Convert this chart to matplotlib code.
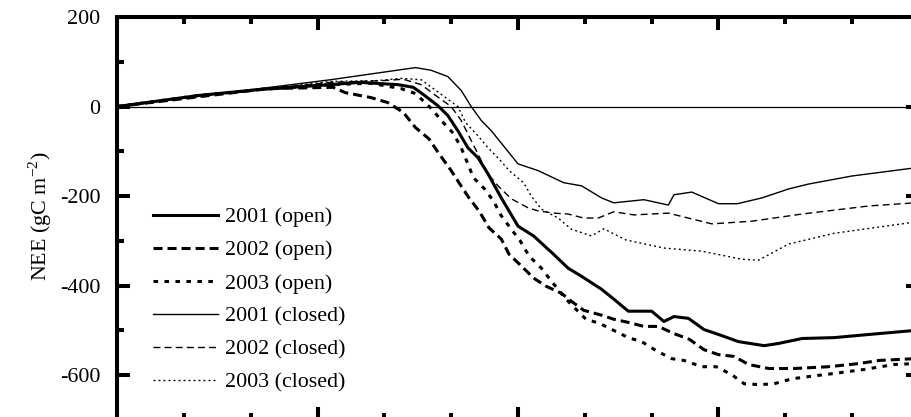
import matplotlib
matplotlib.use("Agg")
import matplotlib.pyplot as plt
from matplotlib.ticker import MultipleLocator

plt.rcParams['font.family'] = ['Liberation Serif', 'DejaVu Serif']
plt.rcParams['mathtext.fontset'] = 'custom'
plt.rcParams['mathtext.rm'] = 'Liberation Serif'
plt.rcParams['axes.unicode_minus'] = False
plt.rcParams['lines.scale_dashes'] = False

# Cumulative NEE (gC m-2) against day of year
day_2001_open = [0, 37, 64, 96, 109, 126, 133, 138, 144, 148.5, 153, 157.5, 162, 166.5, 172.5, 180, 187, 196,
                 202.5, 208.5, 217.5, 223, 229.5, 240, 245.5, 250, 256.5, 263.5, 270, 279, 290.5, 297, 307.5,
                 322, 337.5, 358, 362]
nee_2001_open = [0, 25, 38, 49, 54, 49, 43, 25, 2, -20, -54, -92, -114, -150, -204, -267, -289, -330,
                 -361, -379, -408, -430, -457, -457, -480, -469, -473, -498, -509, -525, -534, -529, -518,
                 -516, -509, -500, -499]

day_2002_open = [0, 37, 67.5, 97, 102.5, 114, 121.5, 128.5, 134, 140, 144.5, 150, 153.5, 158, 162.5, 167,
                 172.5, 176, 181.5, 187, 192.5, 199.5, 204, 209.5, 217.5, 223, 229.5, 236.5, 243, 250, 257,
                 263.5, 270, 277, 283.5, 292.5, 304, 319.5, 333, 342, 358, 362]
nee_2002_open = [0, 22, 40, 43, 31, 20, 9, -13, -47, -72, -105, -143, -170, -204, -233, -271,
                 -296, -330, -356, -383, -401, -417, -435, -455, -466, -475, -482, -491, -491, -507, -520,
                 -543, -554, -558, -576, -585, -585, -581, -574, -567, -563, -562]

day_2003_open = [0, 37, 64, 96, 114, 127.5, 134, 141, 146.5, 151, 154.5, 157.5, 160, 165, 169, 172.5, 177,
                 181, 185, 190.5, 195, 201.5, 210.5, 216.5, 229.5, 235.5, 242, 249, 254.5, 262.5, 269, 276,
                 281.5, 288.5, 295, 303, 310.5, 322, 335.5, 349, 358, 362]
nee_2003_open = [0, 25, 38, 49, 52, 40, 29, -4, -36, -60, -92, -128, -159, -184, -211, -244, -274,
                 -300, -334, -361, -390, -430, -475, -484, -516, -525, -545, -563, -567, -581, -581, -599,
                 -619, -621, -619, -608, -603, -596, -587, -576, -574, -573]

day_2001_closed = [0, 96, 118.5, 134, 141, 148.5, 154.5, 159, 163.5, 168, 174.5, 180, 189, 200.5, 208.5,
                   217.5, 223, 236.5, 247.5, 250, 258, 270, 278.5, 289.5, 301.5, 310.5, 330, 358, 362]
nee_2001_closed = [0, 60, 76, 87, 81, 67, 36, 0, -31, -54, -94, -128, -143, -170, -177,
                   -204, -215, -208, -220, -197, -191, -217, -217, -204, -184, -173, -155, -137, -135]

day_2002_closed = [0, 37, 64, 96, 119.5, 128.5, 136.5, 143, 150, 154.5, 159, 166.5, 171, 177, 184.5, 189,
                   196, 202.5, 209.5, 216, 223, 232, 247.5, 258, 267, 285, 307.5, 337.5, 358, 362]
nee_2002_closed = [0, 24, 38, 54, 58, 61, 49, 25, 0, -31, -76, -150, -177, -206, -226, -233,
                   -238, -240, -249, -249, -235, -242, -238, -251, -262, -256, -240, -222, -215, -214]

day_2003_closed = [0, 37, 64, 96, 117, 127.5, 136.5, 142, 147.5, 153, 156.5, 162, 166.5, 171.5, 176,
                   182.5, 186, 190.5, 198, 204, 213, 218.5, 228.5, 245.5, 262.5, 280.5, 288, 301.5, 322,
                   358, 362]
nee_2003_closed = [0, 24, 38, 56, 58, 63, 60, 40, 20, 0, -36, -65, -92, -117, -143,
                   -170, -200, -229, -249, -274, -289, -273, -298, -316, -323, -341, -343, -307, -283,
                   -258, -256]

fig = plt.figure(figsize=(9.12, 4.17), dpi=100)
# axes runs slightly past the right and bottom edge of the picture (as in the cropped original)
ax = fig.add_axes([117 / 912, 1 - 420 / 417, 802 / 912, 403 / 417])

ax.axhline(0, color='black', lw=0.9, zorder=1)

ax.plot(day_2001_open, nee_2001_open, color='black', lw=2.2, label='2001 (open)')
ax.plot(day_2002_open, nee_2002_open, color='black', lw=2.2, dashes=(6.5, 3.6), label='2002 (open)')
ax.plot(day_2003_open, nee_2003_open, color='black', lw=2.2, dashes=(3.3, 4.6), label='2003 (open)')
ax.plot(day_2001_closed, nee_2001_closed, color='black', lw=1.0, label='2001 (closed)')
ax.plot(day_2002_closed, nee_2002_closed, color='black', lw=1.0, dashes=(5, 3), label='2002 (closed)')
ax.plot(day_2003_closed, nee_2003_closed, color='black', lw=1.0, dashes=(1.4, 2.2), label='2003 (closed)')

ax.set_xlim(0, 360)
ax.set_ylim(-700, 200)
ax.xaxis.set_major_locator(MultipleLocator(90))
ax.xaxis.set_minor_locator(MultipleLocator(30))
ax.yaxis.set_major_locator(MultipleLocator(200))
ax.yaxis.set_minor_locator(MultipleLocator(100))
ax.tick_params(which='both', direction='in', top=True, right=True, width=2.9, colors='black',
               labelbottom=False, labelsize=15.8, pad=12)
ax.tick_params(which='major', length=9.5)
ax.tick_params(which='minor', length=5)
for s in ax.spines.values():
    s.set_linewidth(2.9)

fig.text(40 / 912, 1 - 216 / 417, 'NEE (gC m$^{-2}$)', rotation=90, fontsize=15.8,
         ha='center', va='center')

ax.legend(loc='upper left', bbox_to_anchor=(153 / 912, 1 - 207 / 417), bbox_transform=fig.transFigure,
          frameon=False, fontsize=15.8, borderpad=0, borderaxespad=0, handlelength=2.95,
          handletextpad=0.33, labelspacing=0.58)

fig.savefig('out.png', dpi=100)
